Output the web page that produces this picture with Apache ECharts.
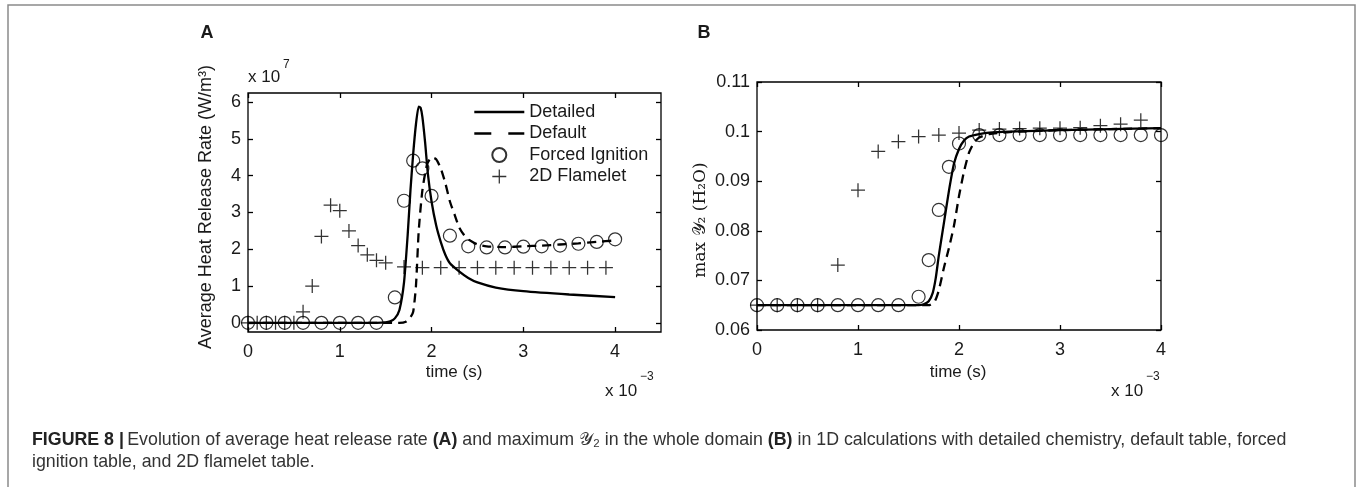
<!DOCTYPE html>
<html>
<head>
<meta charset="utf-8">
<script src="https://cdn.jsdelivr.net/npm/echarts@6/dist/echarts.min.js"></script>
<style>
html,body{margin:0;padding:0;background:#fff;}
#chart{width:1357px;height:487px;}
</style>
</head>
<body>
<div id="chart"></div>
<script>
// ---------- Panel A: average heat release rate (x 10^7 W/m^3) vs time (x 10^-3 s)
const tDetailedA = [0, 1.4, 1.5, 1.55, 1.6, 1.65, 1.7, 1.74, 1.77, 1.8, 1.83, 1.86, 1.88, 1.9, 1.93, 1.96, 2.0, 2.05, 2.1, 2.15, 2.2, 2.3, 2.4, 2.5, 2.7, 3.0, 3.5, 4.0];
const detailedA  = [0, 0, 0.01, 0.04, 0.12, 0.35, 1.1, 2.4, 3.6, 4.6, 5.4, 5.88, 5.85, 5.6, 4.9, 4.05, 3.3, 2.65, 2.2, 1.85, 1.62, 1.4, 1.22, 1.1, 0.96, 0.86, 0.77, 0.7];
const tDefaultA = [0, 1.65, 1.72, 1.77, 1.8, 1.83, 1.86, 1.9, 1.95, 2.0, 2.05, 2.1, 2.15, 2.2, 2.25, 2.3, 2.35, 2.4, 2.5, 2.6, 2.8, 3.0, 3.2, 3.4, 3.6, 3.8, 4.0];
const defaultA  = [0, 0, 0.03, 0.15, 0.3, 1.0, 2.5, 3.6, 4.3, 4.5, 4.45, 4.2, 3.8, 3.3, 2.95, 2.6, 2.4, 2.27, 2.13, 2.08, 2.06, 2.08, 2.1, 2.13, 2.16, 2.2, 2.24];
const tForcedA = [0, 0.2, 0.4, 0.6, 0.8, 1.0, 1.2, 1.4, 1.6, 1.7, 1.8, 1.9, 2.0, 2.2, 2.4, 2.6, 2.8, 3.0, 3.2, 3.4, 3.6, 3.8, 4.0];
const forcedA  = [0, 0, 0, 0, 0, 0, 0, 0, 0.69, 3.32, 4.41, 4.2, 3.45, 2.37, 2.08, 2.05, 2.05, 2.07, 2.08, 2.1, 2.15, 2.2, 2.27];
const tFlameletA = [0, 0.1, 0.2, 0.3, 0.4, 0.5, 0.6, 0.7, 0.8, 0.9, 1.0, 1.1, 1.2, 1.3, 1.4, 1.5, 1.7, 1.9, 2.1, 2.3, 2.5, 2.7, 2.9, 3.1, 3.3, 3.5, 3.7, 3.9];
const flameletA  = [0, 0, 0, 0, 0, 0, 0.3, 1.0, 2.35, 3.2, 3.05, 2.5, 2.1, 1.85, 1.7, 1.63, 1.52, 1.5, 1.5, 1.5, 1.5, 1.5, 1.5, 1.5, 1.5, 1.5, 1.5, 1.5];

// ---------- Panel B: max Y2 (H2O) vs time (x 10^-3 s)
const tDetailedB = [0, 1.6, 1.65, 1.7, 1.74, 1.77, 1.8, 1.85, 1.9, 1.95, 2.0, 2.05, 2.1, 2.2, 2.3, 2.5, 3.0, 3.5, 4.0];
const detailedB  = [0.065, 0.065, 0.0652, 0.0658, 0.0675, 0.0705, 0.075, 0.0815, 0.088, 0.0935, 0.0965, 0.0982, 0.099, 0.0995, 0.0998, 0.1, 0.1003, 0.1005, 0.1007];
const tDefaultB = [0, 1.7, 1.76, 1.8, 1.85, 1.9, 1.95, 2.0, 2.05, 2.1, 2.15, 2.2, 2.3, 2.5, 3.0, 3.5, 4.0];
const defaultB  = [0.065, 0.065, 0.0658, 0.068, 0.0725, 0.0765, 0.081, 0.087, 0.092, 0.0958, 0.0978, 0.0988, 0.0995, 0.0999, 0.1003, 0.1005, 0.1007];
const tForcedB = [0, 0.2, 0.4, 0.6, 0.8, 1.0, 1.2, 1.4, 1.6, 1.7, 1.8, 1.9, 2.0, 2.2, 2.4, 2.6, 2.8, 3.0, 3.2, 3.4, 3.6, 3.8, 4.0];
const forcedB  = [0.065, 0.065, 0.065, 0.065, 0.065, 0.065, 0.065, 0.065, 0.0667, 0.0741, 0.0842, 0.0929, 0.0976, 0.0993, 0.0993, 0.0993, 0.0993, 0.0993, 0.0993, 0.0993, 0.0993, 0.0993, 0.0993];
const tFlameletB = [0, 0.2, 0.4, 0.6, 0.8, 1.0, 1.2, 1.4, 1.6, 1.8, 2.0, 2.2, 2.4, 2.6, 2.8, 3.0, 3.2, 3.4, 3.6, 3.8];
const flameletB  = [0.065, 0.065, 0.065, 0.065, 0.0731, 0.0882, 0.096, 0.098, 0.099, 0.0993, 0.0997, 0.1003, 0.1005, 0.1006, 0.1007, 0.1007, 0.1008, 0.1012, 0.1015, 0.1023];

// ---------- tick labels
const xTicksA = [0, 1, 2, 3, 4];
const yTicksA = [0, 1, 2, 3, 4, 5, 6];
const xTicksB = [0, 1, 2, 3, 4];
const yTicksB = [0.06, 0.07, 0.08, 0.09, 0.1, 0.11];

const seriesNames = ['Detailed', 'Default', 'Forced Ignition', '2D Flamelet'];

function zip(xs, ys) { return xs.map((x, i) => [x, ys[i]]); }

const SANS = "'Liberation Sans', Arial, Helvetica, sans-serif";
const SERIF = "'DejaVu Serif', 'Liberation Serif', serif";
const TXT = '#1a1a1a';
const PLUS = 'path://M-0.09,-1 L0.09,-1 L0.09,1 L-0.09,1 Z M-1,-0.09 L1,-0.09 L1,0.09 L-1,0.09 Z';

function xAx(grid, min, max, ticks, pos, showLabel) {
  return {
    type: 'value', gridIndex: grid, min: min, max: max, position: pos,
    axisLine: { show: false, onZero: false },
    splitLine: { show: false },
    axisTick: { show: true, inside: true, length: 5, customValues: ticks, lineStyle: { color: '#000', width: 1.3 } },
    axisLabel: { show: showLabel, customValues: ticks, margin: 11, fontSize: 18, color: TXT, fontFamily: SANS }
  };
}
function yAx(grid, min, max, ticks, pos, showLabel) {
  return {
    type: 'value', gridIndex: grid, min: min, max: max, position: pos,
    axisLine: { show: false, onZero: false },
    splitLine: { show: false },
    axisTick: { show: true, inside: true, length: 5, customValues: ticks, lineStyle: { color: '#000', width: 1.3 } },
    axisLabel: { show: showLabel, customValues: ticks, margin: 7, fontSize: 18, color: TXT, fontFamily: SANS,
      formatter: v => String(Math.round(v * 1000) / 1000) }
  };
}

function lineSeries(name, xi, yi, data, dashed) {
  return {
    name: name, type: 'line', xAxisIndex: xi, yAxisIndex: yi, data: data,
    symbol: 'none', showSymbol: false, smooth: 0.2, z: 3,
    lineStyle: { color: '#000', width: 2.3, type: dashed ? [9, 6] : 'solid' },
    itemStyle: { color: '#000' }
  };
}
function circleSeries(name, xi, yi, data) {
  return {
    name: name, type: 'scatter', xAxisIndex: xi, yAxisIndex: yi, data: data,
    symbol: 'circle', symbolSize: 13, z: 4,
    itemStyle: { color: 'rgba(255,255,255,0)', borderColor: '#000', borderWidth: 1.2 }
  };
}
function plusSeries(name, xi, yi, data) {
  return {
    name: name, type: 'scatter', xAxisIndex: xi, yAxisIndex: yi, data: data,
    symbol: PLUS, symbolSize: 14, z: 4,
    itemStyle: { color: '#000', borderWidth: 0 }
  };
}

function txt(x, y, text, font, align, vAlign, extra) {
  return Object.assign({
    type: 'text', x: x, y: y, silent: true,
    style: { text: text, font: font, fill: TXT, textAlign: align || 'left', textVerticalAlign: vAlign || 'middle' }
  }, extra || {});
}

const hiddenSymbol = { color: 'rgba(0,0,0,0)', borderColor: 'rgba(0,0,0,0)', borderWidth: 0 };

const chart = echarts.init(document.getElementById('chart'), null, { renderer: 'canvas' });

const CAP = "17.8px " + SANS;
const CAPB = "bold 17.8px " + SANS;

const option = {
  animation: false,
  backgroundColor: '#fff',
  grid: [
    { left: 248, top: 93, width: 413, height: 239, show: true, borderColor: '#000', borderWidth: 1.3, backgroundColor: 'transparent' },
    { left: 757, top: 82, width: 404, height: 248, show: true, borderColor: '#000', borderWidth: 1.3, backgroundColor: 'transparent' }
  ],
  xAxis: [
    xAx(0, 0, 4.5, xTicksA, 'bottom', true),
    xAx(0, 0, 4.5, xTicksA, 'top', false),
    xAx(1, 0, 4, xTicksB, 'bottom', true),
    xAx(1, 0, 4, xTicksB, 'top', false)
  ],
  yAxis: [
    yAx(0, -0.25, 6.25, yTicksA, 'left', true),
    yAx(0, -0.25, 6.25, yTicksA, 'right', false),
    yAx(1, 0.06, 0.11, yTicksB, 'left', true),
    yAx(1, 0.06, 0.11, yTicksB, 'right', false)
  ],
  legend: {
    data: [
      { name: seriesNames[0], itemStyle: hiddenSymbol, lineStyle: { width: 2.6 } },
      { name: seriesNames[1], itemStyle: hiddenSymbol, lineStyle: { width: 2.6, type: [17, 17] } },
      { name: seriesNames[2] },
      { name: seriesNames[3] }
    ],
    orient: 'vertical', left: 473, top: 103, padding: 0,
    itemWidth: 50, itemHeight: 14, itemGap: 3.5, selectedMode: false,
    textStyle: { fontSize: 18, color: TXT, fontFamily: SANS, lineHeight: 18 }
  },
  series: [
    lineSeries('Detailed', 0, 0, zip(tDetailedA, detailedA), false),
    lineSeries('Default', 0, 0, zip(tDefaultA, defaultA), true),
    circleSeries('Forced Ignition', 0, 0, zip(tForcedA, forcedA)),
    plusSeries('2D Flamelet', 0, 0, zip(tFlameletA, flameletA)),
    lineSeries('Detailed', 2, 2, zip(tDetailedB, detailedB), false),
    lineSeries('Default', 2, 2, zip(tDefaultB, defaultB), true),
    circleSeries('Forced Ignition', 2, 2, zip(tForcedB, forcedB)),
    plusSeries('2D Flamelet', 2, 2, zip(tFlameletB, flameletB))
  ],
  graphic: [
    { type: 'rect', silent: true, shape: { x: 8, y: 5, width: 1347, height: 530 },
      style: { fill: 'none', stroke: '#8a8a8a', lineWidth: 1.5 } },
    txt(207, 33, 'A', "bold 18px " + SANS, 'center'),
    txt(704, 33, 'B', "bold 18px " + SANS, 'center'),
    // panel A labels
    txt(248, 77, 'x 10', "17px " + SANS, 'left'),
    txt(283, 65, '7', "12px " + SANS, 'left'),
    txt(206, 207, 'Average Heat Release Rate (W/m\u00B3)', "18px " + SANS, 'center', 'middle', { rotation: Math.PI / 2 }),
    txt(454, 372, 'time (s)', "17px " + SANS, 'center'),
    txt(605, 391, 'x 10', "17px " + SANS, 'left'),
    txt(640, 377, '\u22123', "12px " + SANS, 'left'),
    // panel B labels
    txt(701, 220, 'max \uD835\uDCB4\u2082 (H\u2082O)', "17px " + SERIF, 'center', 'middle', { rotation: Math.PI / 2 }),
    txt(958, 372, 'time (s)', "17px " + SANS, 'center'),
    txt(1111, 391, 'x 10', "17px " + SANS, 'left'),
    txt(1146, 377, '\u22123', "12px " + SANS, 'left'),
    // caption
    {
      type: 'text', x: 32, y: 440, silent: true,
      style: {
        text: '{b|FIGURE 8 |} {n|Evolution of average heat release rate }{b|(A)}{n| and maximum \uD835\uDCB4\u2082 in the whole domain }{b|(B)}{n| in 1D calculations with detailed chemistry, default table, forced}',
        textVerticalAlign: 'middle',
        rich: {
          b: { font: CAPB, fill: '#222' },
          n: { font: CAP, fill: '#333' }
        }
      }
    },
    { type: 'text', x: 32, y: 462, silent: true,
      style: { text: 'ignition table, and 2D flamelet table.', font: CAP, fill: '#333', textAlign: 'left', textVerticalAlign: 'middle' } }
  ]
};

chart.setOption(option);
</script>
</body>
</html>
